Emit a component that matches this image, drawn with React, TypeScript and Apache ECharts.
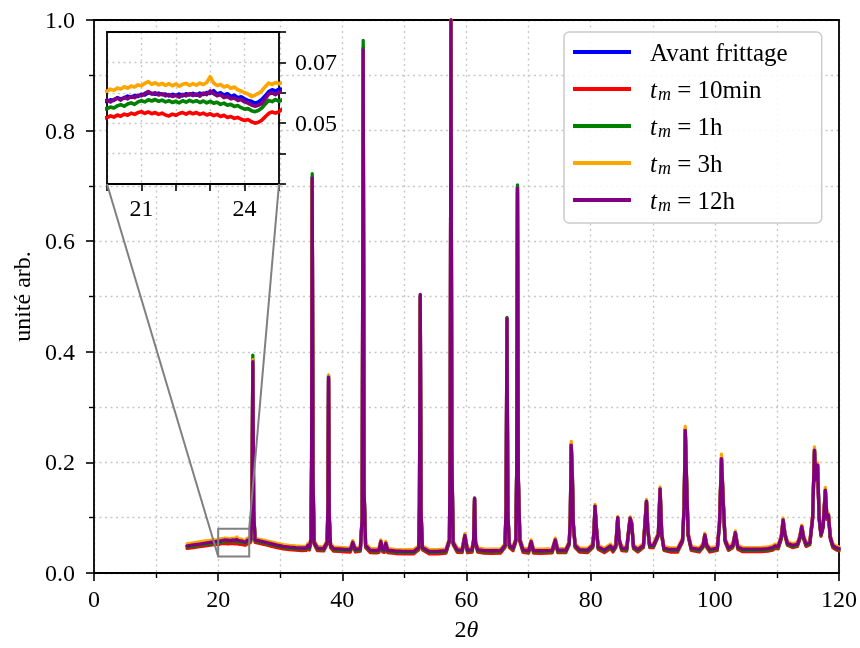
import React, { useEffect, useRef } from 'react';
import * as echarts from 'echarts';

const FONT = '"Liberation Serif", "DejaVu Serif", serif';

// ---------- 2θ positions ----------
const thetaLow = [15, 16, 17, 18, 19];
const thetaInset = [
  20.0, 20.1, 20.2, 20.3, 20.4, 20.5, 20.6, 20.7, 20.8, 20.9,
  21.0, 21.1, 21.2, 21.3, 21.4, 21.5, 21.6, 21.7, 21.8, 21.9,
  22.0, 22.1, 22.2, 22.3, 22.4, 22.5, 22.6, 22.7, 22.8, 22.9,
  23.0, 23.1, 23.2, 23.3, 23.4, 23.5, 23.6, 23.7, 23.8, 23.9,
  24.0, 24.1, 24.2, 24.3, 24.4, 24.5, 24.6, 24.7, 24.8, 24.9,
  25.0,
];
const thetaHigh = [
  25.25, 25.45, 25.58, 25.72, 25.95, 26.5, 27.5, 28.5, 29.5, 30.5,
  31.5, 32.5, 33.5, 34.2, 34.45, 34.7, 34.95, 35.05, 35.15, 35.27,
  35.45, 36, 37, 37.55, 37.68, 37.78, 37.9, 38.1, 38.6, 39.5,
  40.5, 41.3, 41.68, 42.1, 42.9, 43.2, 43.36, 43.5, 43.75, 44.5,
  45.5, 45.9, 46.2, 46.5, 46.75, 47.0, 47.3, 48.5, 50, 51.5,
  52.3, 52.42, 52.55, 52.68, 52.9, 54, 55.5, 56.7, 57.25, 57.38,
  57.5, 57.63, 57.85, 58.5, 59.3, 59.74, 60.15, 60.9, 61.15, 61.3,
  61.45, 61.8, 62.8, 64, 65.5, 66.2, 66.38, 66.52, 66.66, 66.9,
  67.5, 67.95, 68.08, 68.21, 68.35, 68.6, 69.1, 70, 70.42, 70.8,
  72, 73.8, 74.3, 74.7, 76, 76.55, 76.72, 76.87, 77.05, 77.2,
  77.5, 78.2, 79.5, 80.35, 80.55, 80.7, 80.9, 81.2, 82.2, 83.2,
  83.6, 84.05, 84.36, 84.6, 85, 85.8, 86.2, 86.36, 86.6, 86.9,
  87.6, 88.5, 88.99, 89.2, 89.5, 90.1, 90.5, 90.9, 91.18, 91.45,
  91.8, 92.8, 94, 94.8, 95.05, 95.24, 95.45, 95.7, 96.2, 97.5,
  98.1, 98.39, 98.7, 99.2, 100.4, 100.75, 101.07, 101.35, 101.65, 102.2,
  102.9, 103.3, 103.7, 104.5, 106, 107.5, 108.5, 109.3, 109.7, 110.2,
  110.7, 111, 111.3, 111.7, 112.5, 113.3, 113.7, 114, 114.3, 114.7,
  115.3, 115.75, 116.05, 116.3, 116.55, 116.8, 117.1, 117.45, 117.8, 118.05,
  118.3, 118.6, 119, 119.5, 120,
];

// ---------- Avant frittage (blue) ----------
const avantLow = [0.0492, 0.0509, 0.0527, 0.0543, 0.0561];
const avantInset = [
  0.0572, 0.0577, 0.0575, 0.0584, 0.0580, 0.0583, 0.0589, 0.0585, 0.0591, 0.0588,
  0.0595, 0.0593, 0.0600, 0.0598, 0.0595, 0.0599, 0.0594, 0.0596, 0.0590, 0.0595,
  0.0591, 0.0596, 0.0590, 0.0597, 0.0593, 0.0598, 0.0592, 0.0599, 0.0595, 0.0601,
  0.0598, 0.0607, 0.0596, 0.0600, 0.0593, 0.0597, 0.0588, 0.0592, 0.0584, 0.0587,
  0.0580, 0.0575, 0.0572, 0.0566, 0.0570, 0.0578, 0.0590, 0.0604, 0.0610, 0.0606,
  0.0612,
];
const avantHigh = [
  0.0610, 0.1210, 0.3850, 0.1110, 0.0605, 0.0589, 0.0564, 0.0536, 0.0509, 0.0486,
  0.0472, 0.0462, 0.0456, 0.0460, 0.0504, 0.0466, 0.0625, 0.2010, 0.7160, 0.1810,
  0.0565, 0.0454, 0.0449, 0.0565, 0.1210, 0.3550, 0.1010, 0.0505, 0.0446, 0.0439,
  0.0432, 0.0429, 0.0559, 0.0429, 0.0444, 0.1010, 0.9500, 0.1510, 0.0505, 0.0419,
  0.0414, 0.0422, 0.0574, 0.0429, 0.0424, 0.0544, 0.0419, 0.0402, 0.0394, 0.0396,
  0.0465, 0.1205, 0.5000, 0.1105, 0.0465, 0.0396, 0.0397, 0.0409, 0.0605, 0.2510,
  1.0, 0.2210, 0.0555, 0.0424, 0.0419, 0.0684, 0.0419, 0.0426, 0.0604, 0.1355,
  0.0564, 0.0426, 0.0409, 0.0406, 0.0409, 0.0505, 0.1205, 0.4610, 0.1105, 0.0505,
  0.0454, 0.0605, 0.1810, 0.6980, 0.1710, 0.0605, 0.0424, 0.0409, 0.0574, 0.0409,
  0.0406, 0.0414, 0.0604, 0.0416, 0.0416, 0.0555, 0.1005, 0.2320, 0.1760, 0.0905,
  0.0505, 0.0426, 0.0419, 0.0505, 0.0805, 0.1215, 0.0855, 0.0475, 0.0419, 0.0494,
  0.0429, 0.0505, 0.1005, 0.0605, 0.0454, 0.0444, 0.0855, 0.0995, 0.0905, 0.0485,
  0.0429, 0.0505, 0.1305, 0.0805, 0.0505, 0.0505, 0.0605, 0.0705, 0.1525, 0.0705,
  0.0455, 0.0429, 0.0429, 0.0605, 0.1205, 0.2600, 0.1660, 0.0705, 0.0455, 0.0429,
  0.0505, 0.0695, 0.0505, 0.0429, 0.0455, 0.0905, 0.2080, 0.1305, 0.0605, 0.0455,
  0.0505, 0.0735, 0.0475, 0.0434, 0.0434, 0.0436, 0.0444, 0.0464, 0.0494, 0.0484,
  0.0655, 0.0965, 0.0705, 0.0544, 0.0504, 0.0524, 0.0655, 0.0845, 0.0655, 0.0524,
  0.0554, 0.1005, 0.2230, 0.1705, 0.1955, 0.1005, 0.0705, 0.0855, 0.1505, 0.1005,
  0.1055, 0.0655, 0.0504, 0.0464, 0.0444,
];

// ---------- t_m = 10min (red) ----------
const t10minLow = [0.0444, 0.0459, 0.0476, 0.0492, 0.0507];
const t10minInset = [
  0.0518, 0.0524, 0.0520, 0.0527, 0.0523, 0.0530, 0.0526, 0.0533, 0.0529, 0.0535,
  0.0538, 0.0532, 0.0537, 0.0531, 0.0535, 0.0529, 0.0533, 0.0527, 0.0524, 0.0530,
  0.0526, 0.0532, 0.0535, 0.0530, 0.0536, 0.0531, 0.0535, 0.0529, 0.0533, 0.0527,
  0.0531, 0.0525, 0.0529, 0.0522, 0.0526, 0.0519, 0.0522, 0.0516, 0.0519, 0.0513,
  0.0509, 0.0512, 0.0505, 0.0500, 0.0503, 0.0510, 0.0521, 0.0532, 0.0537, 0.0533,
  0.0538,
];
const t10minHigh = [
  0.0560, 0.1180, 0.3780, 0.1080, 0.0555, 0.0540, 0.0515, 0.0487, 0.0460, 0.0437,
  0.0423, 0.0413, 0.0407, 0.0411, 0.0455, 0.0417, 0.0580, 0.1980, 0.7100, 0.1780,
  0.0520, 0.0405, 0.0400, 0.0520, 0.1180, 0.3500, 0.0980, 0.0460, 0.0397, 0.0390,
  0.0383, 0.0380, 0.0510, 0.0380, 0.0395, 0.0980, 0.9400, 0.1480, 0.0460, 0.0370,
  0.0365, 0.0373, 0.0525, 0.0380, 0.0375, 0.0495, 0.0370, 0.0353, 0.0345, 0.0347,
  0.0420, 0.1180, 0.4950, 0.1080, 0.0420, 0.0347, 0.0348, 0.0360, 0.0560, 0.2480,
  1.0, 0.2180, 0.0510, 0.0375, 0.0370, 0.0635, 0.0370, 0.0377, 0.0560, 0.1320,
  0.0520, 0.0377, 0.0360, 0.0357, 0.0360, 0.0460, 0.1180, 0.4560, 0.1080, 0.0460,
  0.0405, 0.0560, 0.1780, 0.6900, 0.1680, 0.0560, 0.0375, 0.0360, 0.0525, 0.0360,
  0.0357, 0.0365, 0.0555, 0.0367, 0.0367, 0.0510, 0.0980, 0.2280, 0.1720, 0.0880,
  0.0460, 0.0377, 0.0370, 0.0460, 0.0770, 0.1180, 0.0820, 0.0430, 0.0370, 0.0445,
  0.0380, 0.0460, 0.0975, 0.0560, 0.0405, 0.0395, 0.0820, 0.0965, 0.0875, 0.0440,
  0.0380, 0.0460, 0.1270, 0.0770, 0.0460, 0.0460, 0.0560, 0.0665, 0.1490, 0.0665,
  0.0410, 0.0380, 0.0380, 0.0560, 0.1170, 0.2550, 0.1620, 0.0665, 0.0410, 0.0380,
  0.0460, 0.0655, 0.0460, 0.0380, 0.0410, 0.0870, 0.2040, 0.1270, 0.0560, 0.0410,
  0.0460, 0.0695, 0.0430, 0.0385, 0.0385, 0.0387, 0.0395, 0.0415, 0.0445, 0.0435,
  0.0610, 0.0930, 0.0665, 0.0500, 0.0460, 0.0480, 0.0610, 0.0810, 0.0610, 0.0480,
  0.0510, 0.0970, 0.2180, 0.1670, 0.1910, 0.0970, 0.0665, 0.0820, 0.1470, 0.0970,
  0.1020, 0.0610, 0.0460, 0.0420, 0.0400,
];

// ---------- t_m = 1h (green) ----------
const t1hLow = [0.0468, 0.0485, 0.0502, 0.0519, 0.0536];
const t1hInset = [
  0.0548, 0.0553, 0.0550, 0.0557, 0.0561, 0.0556, 0.0563, 0.0567, 0.0562, 0.0570,
  0.0574, 0.0570, 0.0577, 0.0573, 0.0578, 0.0572, 0.0576, 0.0570, 0.0574, 0.0568,
  0.0572, 0.0567, 0.0574, 0.0569, 0.0575, 0.0570, 0.0574, 0.0568, 0.0573, 0.0567,
  0.0572, 0.0566, 0.0569, 0.0562, 0.0566, 0.0559, 0.0562, 0.0555, 0.0558, 0.0551,
  0.0546, 0.0548, 0.0541, 0.0538, 0.0542, 0.0550, 0.0563, 0.0575, 0.0571, 0.0578,
  0.0572,
];
const t1hHigh = [
  0.0585, 0.1230, 0.3940, 0.1130, 0.0580, 0.0565, 0.0540, 0.0512, 0.0485, 0.0462,
  0.0448, 0.0438, 0.0432, 0.0436, 0.0480, 0.0442, 0.0605, 0.2030, 0.7220, 0.1830,
  0.0545, 0.0430, 0.0425, 0.0545, 0.1220, 0.3580, 0.1020, 0.0485, 0.0422, 0.0415,
  0.0408, 0.0405, 0.0535, 0.0405, 0.0420, 0.1020, 0.9630, 0.1530, 0.0480, 0.0395,
  0.0390, 0.0398, 0.0550, 0.0405, 0.0400, 0.0520, 0.0395, 0.0378, 0.0370, 0.0372,
  0.0440, 0.1210, 0.5020, 0.1110, 0.0440, 0.0372, 0.0373, 0.0385, 0.0585, 0.2520,
  1.0, 0.2220, 0.0535, 0.0400, 0.0395, 0.0660, 0.0395, 0.0402, 0.0585, 0.1360,
  0.0545, 0.0402, 0.0385, 0.0382, 0.0385, 0.0480, 0.1210, 0.4620, 0.1110, 0.0480,
  0.0430, 0.0585, 0.1820, 0.7020, 0.1720, 0.0585, 0.0400, 0.0385, 0.0550, 0.0385,
  0.0382, 0.0390, 0.0580, 0.0392, 0.0392, 0.0535, 0.1010, 0.2330, 0.1760, 0.0905,
  0.0480, 0.0402, 0.0395, 0.0480, 0.0790, 0.1210, 0.0840, 0.0450, 0.0395, 0.0470,
  0.0405, 0.0480, 0.0995, 0.0585, 0.0430, 0.0420, 0.0840, 0.0985, 0.0890, 0.0460,
  0.0405, 0.0480, 0.1295, 0.0790, 0.0480, 0.0480, 0.0580, 0.0685, 0.1515, 0.0685,
  0.0430, 0.0405, 0.0405, 0.0585, 0.1195, 0.2600, 0.1660, 0.0685, 0.0430, 0.0405,
  0.0480, 0.0675, 0.0480, 0.0405, 0.0430, 0.0895, 0.2085, 0.1300, 0.0585, 0.0430,
  0.0480, 0.0715, 0.0450, 0.0410, 0.0410, 0.0412, 0.0420, 0.0440, 0.0470, 0.0460,
  0.0635, 0.0955, 0.0685, 0.0520, 0.0480, 0.0500, 0.0635, 0.0835, 0.0635, 0.0500,
  0.0530, 0.0995, 0.2235, 0.1705, 0.1955, 0.0995, 0.0685, 0.0845, 0.1500, 0.0995,
  0.1045, 0.0635, 0.0480, 0.0440, 0.0420,
];

// ---------- t_m = 3h (orange) ----------
const t3hLow = [0.0528, 0.0545, 0.0561, 0.0579, 0.0595];
const t3hInset = [
  0.0605, 0.0612, 0.0608, 0.0616, 0.0612, 0.0620, 0.0615, 0.0622, 0.0619, 0.0626,
  0.0623, 0.0631, 0.0637, 0.0628, 0.0633, 0.0626, 0.0631, 0.0624, 0.0630, 0.0623,
  0.0629, 0.0622, 0.0628, 0.0631, 0.0624, 0.0630, 0.0625, 0.0632, 0.0627, 0.0634,
  0.0653, 0.0632, 0.0624, 0.0627, 0.0619, 0.0623, 0.0615, 0.0619, 0.0610, 0.0606,
  0.0600, 0.0596, 0.0588, 0.0592, 0.0598, 0.0606, 0.0620, 0.0632, 0.0627, 0.0634,
  0.0630,
];
const t3hHigh = [
  0.0638, 0.1210, 0.3860, 0.1110, 0.0632, 0.0615, 0.0590, 0.0562, 0.0535, 0.0512,
  0.0498, 0.0488, 0.0482, 0.0486, 0.0530, 0.0492, 0.0650, 0.2000, 0.7120, 0.1800,
  0.0590, 0.0480, 0.0475, 0.0590, 0.1215, 0.3580, 0.1015, 0.0530, 0.0472, 0.0465,
  0.0458, 0.0455, 0.0585, 0.0455, 0.0470, 0.1005, 0.9450, 0.1500, 0.0530, 0.0445,
  0.0440, 0.0448, 0.0600, 0.0455, 0.0450, 0.0570, 0.0445, 0.0428, 0.0420, 0.0422,
  0.0490, 0.1200, 0.5000, 0.1100, 0.0490, 0.0422, 0.0423, 0.0435, 0.0630, 0.2500,
  1.0, 0.2200, 0.0580, 0.0450, 0.0445, 0.0710, 0.0445, 0.0452, 0.0625, 0.1355,
  0.0585, 0.0452, 0.0435, 0.0432, 0.0435, 0.0530, 0.1200, 0.4600, 0.1100, 0.0530,
  0.0480, 0.0630, 0.1800, 0.6950, 0.1700, 0.0630, 0.0450, 0.0435, 0.0600, 0.0435,
  0.0432, 0.0440, 0.0630, 0.0442, 0.0442, 0.0580, 0.1030, 0.2380, 0.1800, 0.0930,
  0.0530, 0.0452, 0.0445, 0.0530, 0.0820, 0.1240, 0.0870, 0.0500, 0.0445, 0.0520,
  0.0455, 0.0530, 0.1025, 0.0625, 0.0480, 0.0470, 0.0875, 0.1015, 0.0925, 0.0510,
  0.0455, 0.0530, 0.1330, 0.0825, 0.0530, 0.0530, 0.0630, 0.0725, 0.1555, 0.0725,
  0.0480, 0.0455, 0.0455, 0.0630, 0.1240, 0.2650, 0.1690, 0.0730, 0.0480, 0.0455,
  0.0530, 0.0720, 0.0530, 0.0455, 0.0480, 0.0930, 0.2150, 0.1340, 0.0630, 0.0480,
  0.0530, 0.0760, 0.0500, 0.0460, 0.0460, 0.0462, 0.0470, 0.0490, 0.0520, 0.0510,
  0.0680, 0.0990, 0.0730, 0.0570, 0.0530, 0.0550, 0.0680, 0.0865, 0.0680, 0.0550,
  0.0580, 0.1030, 0.2280, 0.1740, 0.1990, 0.1030, 0.0730, 0.0880, 0.1550, 0.1030,
  0.1080, 0.0680, 0.0530, 0.0490, 0.0470,
];

// ---------- t_m = 12h (purple) ----------
const t12hLow = [0.0490, 0.0507, 0.0524, 0.0541, 0.0558];
const t12hInset = [
  0.0575, 0.0570, 0.0578, 0.0582, 0.0576, 0.0585, 0.0580, 0.0588, 0.0584, 0.0592,
  0.0590, 0.0598, 0.0604, 0.0596, 0.0600, 0.0593, 0.0597, 0.0590, 0.0594, 0.0588,
  0.0592, 0.0586, 0.0595, 0.0590, 0.0597, 0.0591, 0.0596, 0.0589, 0.0599, 0.0594,
  0.0606, 0.0597, 0.0590, 0.0594, 0.0584, 0.0588, 0.0580, 0.0583, 0.0575, 0.0578,
  0.0570, 0.0566, 0.0560, 0.0556, 0.0559, 0.0565, 0.0580, 0.0596, 0.0600, 0.0594,
  0.0602,
];
const t12hHigh = [
  0.0605, 0.1200, 0.3820, 0.1100, 0.0600, 0.0585, 0.0560, 0.0532, 0.0505, 0.0482,
  0.0468, 0.0458, 0.0452, 0.0456, 0.0500, 0.0462, 0.0620, 0.2000, 0.7140, 0.1800,
  0.0560, 0.0450, 0.0445, 0.0560, 0.1200, 0.3540, 0.1000, 0.0500, 0.0442, 0.0435,
  0.0428, 0.0425, 0.0555, 0.0425, 0.0440, 0.1000, 0.9460, 0.1500, 0.0500, 0.0415,
  0.0410, 0.0418, 0.0570, 0.0425, 0.0420, 0.0540, 0.0415, 0.0398, 0.0390, 0.0392,
  0.0460, 0.1200, 0.5040, 0.1100, 0.0460, 0.0392, 0.0393, 0.0405, 0.0600, 0.2500,
  1.0, 0.2200, 0.0550, 0.0420, 0.0415, 0.0680, 0.0415, 0.0422, 0.0600, 0.1350,
  0.0560, 0.0422, 0.0405, 0.0402, 0.0405, 0.0500, 0.1200, 0.4600, 0.1100, 0.0500,
  0.0450, 0.0600, 0.1800, 0.6960, 0.1700, 0.0600, 0.0420, 0.0405, 0.0570, 0.0405,
  0.0402, 0.0410, 0.0600, 0.0412, 0.0412, 0.0550, 0.1000, 0.2310, 0.1750, 0.0900,
  0.0500, 0.0422, 0.0415, 0.0500, 0.0800, 0.1210, 0.0850, 0.0470, 0.0415, 0.0490,
  0.0425, 0.0500, 0.1000, 0.0600, 0.0450, 0.0440, 0.0850, 0.0990, 0.0900, 0.0480,
  0.0425, 0.0500, 0.1300, 0.0800, 0.0500, 0.0500, 0.0600, 0.0700, 0.1520, 0.0700,
  0.0450, 0.0425, 0.0425, 0.0600, 0.1200, 0.2580, 0.1650, 0.0700, 0.0450, 0.0425,
  0.0500, 0.0690, 0.0500, 0.0425, 0.0450, 0.0900, 0.2070, 0.1300, 0.0600, 0.0450,
  0.0500, 0.0730, 0.0470, 0.0430, 0.0430, 0.0432, 0.0440, 0.0460, 0.0490, 0.0480,
  0.0650, 0.0960, 0.0700, 0.0540, 0.0500, 0.0520, 0.0650, 0.0840, 0.0650, 0.0520,
  0.0550, 0.1000, 0.2220, 0.1700, 0.1950, 0.1000, 0.0700, 0.0850, 0.1500, 0.1000,
  0.1050, 0.0650, 0.0500, 0.0460, 0.0440,
];

const twoTheta = [...thetaLow, ...thetaInset, ...thetaHigh];
const avantFrittage = [...avantLow, ...avantInset, ...avantHigh];
const t10min = [...t10minLow, ...t10minInset, ...t10minHigh];
const t1h = [...t1hLow, ...t1hInset, ...t1hHigh];
const t3h = [...t3hLow, ...t3hInset, ...t3hHigh];
const t12h = [...t12hLow, ...t12hInset, ...t12hHigh];

const seriesNames = ['Avant frittage', 't_m = 10min', 't_m = 1h', 't_m = 3h', 't_m = 12h'];
const seriesValues = [avantFrittage, t10min, t1h, t3h, t12h];
const seriesColors = ['#0000ff', '#ff0000', '#008000', '#ffa500', '#800080'];

// zoomed region of the inset
const insetX = [20, 25];
const insetY = [0.03, 0.08];
const insetXLabels = [21, 24];
const insetYLabels = [0.05, 0.07];

const gridLine = { color: '#c8c8c8', width: 1.4, type: [2, 3.5] as number[] };
const frameLine = { color: '#000', width: 1.8 };

function legendFormatter(name: string) {
  if (!name.startsWith('t_m')) return name;
  const rest = name.slice(3);
  return `{it|t}{sub|m}{txt|${rest}}`;
}

function frameAxis(gridIndex: number, position: string, min: number, max: number, z: number) {
  return {
    type: 'value', gridIndex, position, min, max, z,
    axisLine: { show: true, onZero: false, lineStyle: frameLine },
    axisTick: { show: false },
    axisLabel: { show: false },
    splitLine: { show: false },
  };
}

export default function App() {
  const ref = useRef<HTMLDivElement>(null);

  useEffect(() => {
    const chart = echarts.init(ref.current!, null, { renderer: 'svg' });

    const makeSeries = (inset: boolean) =>
      seriesNames.map((name, i) => ({
        name,
        type: 'line',
        xAxisIndex: inset ? 1 : 0,
        yAxisIndex: inset ? 1 : 0,
        data: twoTheta.map((x, k) => [x, seriesValues[i][k]]),
        showSymbol: false,
        symbol: 'none',
        lineStyle: { width: inset ? 3.6 : 3.3, color: seriesColors[i], join: 'round', cap: 'round' },
        itemStyle: { color: seriesColors[i] },
        z: inset ? 5 : 2,
        silent: true,
        clip: true,
      }));

    const axisCommon = {
      axisLine: { show: true, onZero: false, lineStyle: frameLine },
      axisTick: { show: true, length: 8, lineStyle: { color: '#000', width: 1.6 } },
      axisLabel: { color: '#000', fontSize: 24, fontFamily: FONT },
    };

    chart.setOption({
      animation: false,
      textStyle: { fontFamily: FONT },
      grid: [
        { left: 94, top: 20, width: 745, height: 553, show: false },
        {
          left: 107, top: 32, width: 172, height: 152,
          show: true, borderWidth: 0, borderColor: 'transparent', backgroundColor: '#ffffff', z: 3,
        },
      ],
      xAxis: [
        {
          type: 'value', gridIndex: 0, min: 0, max: 120, interval: 20,
          ...axisCommon,
          axisLabel: { ...axisCommon.axisLabel, margin: 14 },
          minorTick: { show: true, splitNumber: 2, length: 5, lineStyle: { color: '#000', width: 1.4 } },
          splitLine: { show: true, lineStyle: gridLine },
          minorSplitLine: { show: true, lineStyle: gridLine },
          name: '2{it|θ}',
          nameLocation: 'middle',
          nameGap: 44,
          nameTextStyle: {
            color: '#000', fontSize: 24, fontFamily: FONT,
            rich: { it: { fontStyle: 'italic', fontSize: 24, fontFamily: FONT, color: '#000' } },
          },
        },
        {
          type: 'value', gridIndex: 1, min: insetX[0], max: insetX[1], interval: 1, z: 4,
          ...axisCommon,
          axisTick: { show: true, length: 7, lineStyle: { color: '#000', width: 1.6 } },
          axisLabel: {
            ...axisCommon.axisLabel, margin: 12,
            formatter: (v: number) => (insetXLabels.some((l) => Math.abs(l - v) < 1e-6) ? String(Math.round(v)) : ''),
          },
          splitLine: { show: true, lineStyle: gridLine },
        },
        frameAxis(0, 'top', 0, 120, 1),
        frameAxis(1, 'top', insetX[0], insetX[1], 4),
      ],
      yAxis: [
        {
          type: 'value', gridIndex: 0, min: 0, max: 1, interval: 0.2,
          ...axisCommon,
          axisLabel: { ...axisCommon.axisLabel, margin: 19, formatter: (v: number) => v.toFixed(1) },
          minorTick: { show: true, splitNumber: 2, length: 5, lineStyle: { color: '#000', width: 1.4 } },
          splitLine: { show: true, lineStyle: gridLine },
          minorSplitLine: { show: true, lineStyle: gridLine },
          name: 'unité arb.',
          nameLocation: 'middle',
          nameGap: 58,
          nameTextStyle: { color: '#000', fontSize: 24, fontFamily: FONT },
        },
        {
          type: 'value', gridIndex: 1, position: 'right', min: insetY[0], max: insetY[1], interval: 0.01, z: 4,
          ...axisCommon,
          axisTick: { show: true, length: 7, lineStyle: { color: '#000', width: 1.6 } },
          axisLabel: {
            ...axisCommon.axisLabel, margin: 16,
            formatter: (v: number) => (insetYLabels.some((l) => Math.abs(l - v) < 1e-6) ? v.toFixed(2) : ''),
          },
          splitLine: { show: true, lineStyle: gridLine },
        },
        frameAxis(0, 'right', 0, 1, 1),
        frameAxis(1, 'left', insetY[0], insetY[1], 4),
      ],
      legend: {
        data: seriesNames.map((n) => ({ name: n, icon: 'rect' })),
        orient: 'vertical',
        align: 'left',
        left: 564,
        top: 32,
        itemWidth: 58,
        itemHeight: 4,
        itemGap: 9,
        padding: [6, 34, 9, 9],
        backgroundColor: 'rgba(255,255,255,0.85)',
        borderColor: '#cccccc',
        borderWidth: 1.5,
        borderRadius: 5,
        selectedMode: false,
        formatter: legendFormatter,
        textStyle: {
          color: '#000',
          fontSize: 25,
          fontFamily: FONT,
          lineHeight: 28,
          padding: [0, 0, 0, 14],
          rich: {
            it: { fontStyle: 'italic', fontSize: 25, lineHeight: 28, fontFamily: FONT, color: '#000' },
            sub: { fontStyle: 'italic', fontSize: 18, lineHeight: 18, padding: [10, 0, 0, 1], fontFamily: FONT, color: '#000' },
            txt: { fontSize: 25, lineHeight: 28, fontFamily: FONT, color: '#000' },
          },
        },
        z: 6,
      },
      series: [...makeSeries(false), ...makeSeries(true)],
    });

    // zoom box and connector lines, positioned through the axes' scales
    const mainFinder = { xAxisIndex: 0, yAxisIndex: 0 };
    const insetFinder = { xAxisIndex: 1, yAxisIndex: 1 };
    const a = chart.convertToPixel(mainFinder, [insetX[0], insetY[0]]) as number[];
    const b = chart.convertToPixel(mainFinder, [insetX[1], insetY[1]]) as number[];
    const c = chart.convertToPixel(insetFinder, [insetX[0], insetY[0]]) as number[];
    const d = chart.convertToPixel(insetFinder, [insetX[1], insetY[0]]) as number[];
    const grey = { stroke: '#808080', lineWidth: 2, fill: 'none' };
    chart.setOption({
      graphic: [
        { type: 'rect', z: 10, silent: true, shape: { x: a[0], y: b[1], width: b[0] - a[0], height: a[1] - b[1] }, style: grey },
        { type: 'line', z: 10, silent: true, shape: { x1: c[0], y1: c[1], x2: a[0], y2: a[1] }, style: grey },
        { type: 'line', z: 10, silent: true, shape: { x1: d[0], y1: d[1], x2: b[0], y2: b[1] }, style: grey },
      ],
    });

    return () => chart.dispose();
  }, []);

  return <div ref={ref} style={{ position: 'fixed', left: 0, top: 0, width: 860, height: 648 }} />;
}
